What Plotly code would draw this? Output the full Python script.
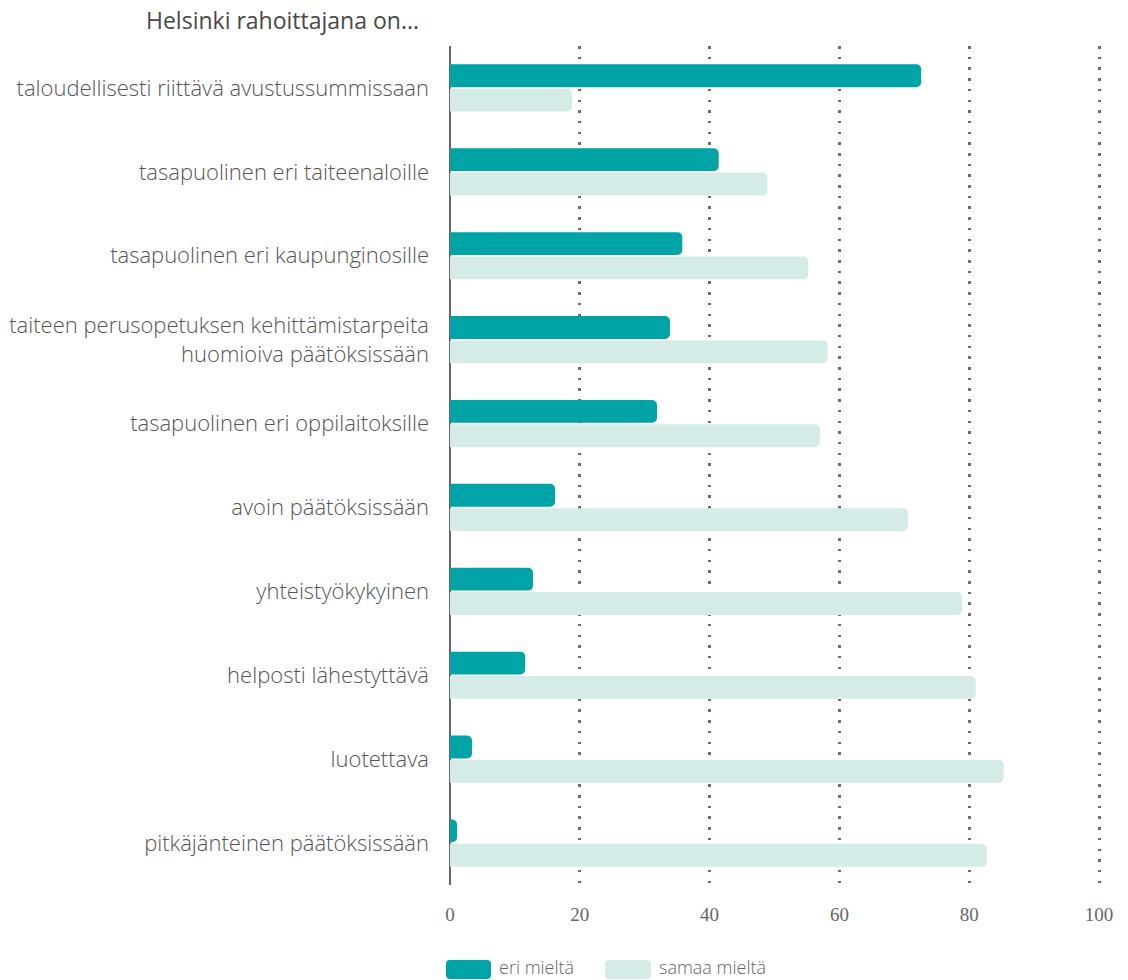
import plotly.graph_objects as go

# Survey statements (top to bottom) and shares of respondents (%)
categories = [
    "taloudellisesti riittävä avustussummissaan",
    "tasapuolinen eri taiteenaloille",
    "tasapuolinen eri kaupunginosille",
    "taiteen perusopetuksen kehittämistarpeita<br>huomioiva päätöksissään",
    "tasapuolinen eri oppilaitoksille",
    "avoin päätöksissään",
    "yhteistyökykyinen",
    "helposti lähestyttävä",
    "luotettava",
    "pitkäjänteinen päätöksissään",
]
eri_mielta = [72.6, 41.4, 35.8, 33.9, 31.9, 16.2, 12.8, 11.6, 3.4, 1.1]
samaa_mielta = [18.8, 48.9, 55.2, 58.2, 57.0, 70.6, 78.9, 81.0, 85.3, 82.7]
series_names = ["eri mieltä", "samaa mieltä"]
x_ticks = [0, 20, 40, 60, 80, 100]

TEAL = "#00A4A6"
MINT = "#D5EBE8"
LABEL_FONT = "Open Sans"

fig = go.Figure()
fig.add_trace(go.Bar(y=categories, x=eri_mielta, name=series_names[0], orientation="h",
                     marker=dict(color=TEAL, line=dict(width=0), cornerradius=5),
                     showlegend=False))
fig.add_trace(go.Bar(y=categories, x=samaa_mielta, name=series_names[1], orientation="h",
                     marker=dict(color=MINT, line=dict(width=0), cornerradius=5),
                     showlegend=False))

W, H = 1128, 980
M_L, M_R, M_T, M_B = 448, 27, 46, 95
X_RANGE = [-0.3, 100.3]
plot_w = W - M_L - M_R
plot_h = H - M_T - M_B


def rounded_rect(px0, py0, px1, py1, r=4):
    """Rounded rectangle path in paper coordinates from page pixel coordinates."""
    def fx(p):
        return (p - M_L) / plot_w

    def fy(p):
        return (H - M_B - p) / plot_h

    return (f"M {fx(px0 + r)},{fy(py0)} L {fx(px1 - r)},{fy(py0)} "
            f"Q {fx(px1)},{fy(py0)} {fx(px1)},{fy(py0 + r)} "
            f"L {fx(px1)},{fy(py1 - r)} Q {fx(px1)},{fy(py1)} {fx(px1 - r)},{fy(py1)} "
            f"L {fx(px0 + r)},{fy(py1)} Q {fx(px0)},{fy(py1)} {fx(px0)},{fy(py1 - r)} "
            f"L {fx(px0)},{fy(py0 + r)} Q {fx(px0)},{fy(py0)} {fx(px0 + r)},{fy(py0)} Z")


# Legend swatches and labels
legend_items = [(446, 491, series_names[0], TEAL), (605, 651, series_names[1], MINT)]
shapes = []
annotations = []
for x0, x1, name, col in legend_items:
    shapes.append(dict(type="path", xref="paper", yref="paper", path=rounded_rect(x0, 960, x1, 979),
                       fillcolor=col, line=dict(width=0), layer="above"))
    annotations.append(dict(text=name, xref="paper", yref="paper",
                            x=(x1 + 6 - M_L) / plot_w, y=(H - M_B - 967) / plot_h,
                            xanchor="left", yanchor="middle", showarrow=False,
                            font=dict(family=LABEL_FONT, size=18, color="#666666", weight=300)))

annotations.append(dict(text="Helsinki rahoittajana on...", xref="paper", yref="paper",
                        x=(421 - M_L) / plot_w, y=1, xanchor="right", yanchor="middle", yshift=26,
                        showarrow=False,
                        font=dict(family=LABEL_FONT, size=23, color="#484848", weight=400)))

fig.update_layout(
    width=W, height=H,
    margin=dict(l=M_L, r=M_R, t=M_T, b=M_B, autoexpand=False),
    paper_bgcolor="white", plot_bgcolor="white",
    barmode="group", bargap=0.42, bargroupgap=0.06,
    shapes=shapes, annotations=annotations,
    xaxis=dict(range=X_RANGE, tickvals=x_ticks, ticktext=[str(v) for v in x_ticks],
               showgrid=True, gridcolor="#6e6e6e", gridwidth=2.5, griddash="2.5px,8.2px",
               zeroline=True, zerolinecolor="#666666", zerolinewidth=2,
               showline=False, ticks="", ticklabelstandoff=16, automargin=False,
               tickfont=dict(family="Liberation Serif", size=19, color="#666666"),
               fixedrange=True),
    yaxis=dict(autorange="reversed", showgrid=False, zeroline=False, showline=False,
               ticks="", ticklabelstandoff=18, automargin=False,
               tickfont=dict(family=LABEL_FONT, size=22, color="#555555", weight=300)),
)

fig.write_html("out.html")
